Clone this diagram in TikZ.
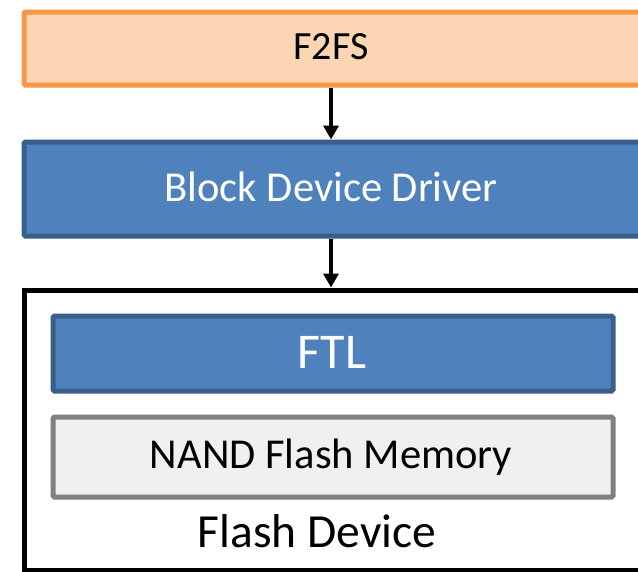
\documentclass[tikz,border=0pt]{standalone}
\usepackage{fontspec}
\setmainfont{Carlito}
\usetikzlibrary{arrows.meta}
\definecolor{orfill}{HTML}{FCD5B5}
\definecolor{ordraw}{HTML}{F79646}
\definecolor{blfill}{HTML}{4F81BD}
\definecolor{bldraw}{HTML}{3A5F8D}
\definecolor{grfill}{HTML}{F0F0F0}
\definecolor{grdraw}{HTML}{808080}
\tikzset{
  boxbase/.style={rectangle, line width=5pt, rounded corners=1.5pt, inner sep=0pt, anchor=north west},
  orbox/.style={boxbase, draw=ordraw, fill=orfill},
  blbox/.style={boxbase, draw=bldraw, fill=blfill},
  grbox/.style={boxbase, draw=grdraw, fill=grfill},
  devbox/.style={boxbase, draw=black, rounded corners=0pt},
  lbl/.style={anchor=base, inner sep=0pt},
  arr/.style={line width=3.6pt, -{Triangle[width=15pt,length=14pt]}}
}
\begin{document}
\begin{tikzpicture}[x=1pt,y=-1pt]
\useasboundingbox (0,0) rectangle (638,571);
\clip (0,0) rectangle (638,571);
\node[orbox, minimum width=680pt, minimum height=73pt] (f2fs) at (21.5,9.5) {};
\node[blbox, minimum width=680pt, minimum height=94pt] (bdd) at (21.5,139.5) {};
\node[devbox, minimum width=680pt, minimum height=280pt] (dev) at (21.5,287.5) {};
\node[blbox, minimum width=560pt, minimum height=75pt] (ftl) at (50.5,313.5) {};
\node[grbox, minimum width=560pt, minimum height=80pt] (nand) at (50.5,414.5) {};
\node[lbl] (t1) at (331,59) {\fontsize{40}{48}\selectfont F2FS};
\node[lbl, text=white] (t2) at (331,201) {\fontsize{42.6}{50}\selectfont Block Device Driver};
\node[lbl, text=white] (t3) at (332,368) {\fontsize{50}{60}\selectfont FTL};
\node[lbl] (t4) at (331,468) {\fontsize{42.6}{50}\selectfont NAND Flash Memory};
\node[lbl] (t5) at (317,547) {\fontsize{47.5}{56}\selectfont Flash Device};
\coordinate (ax) at (331,0);
\draw[arr] (f2fs.south -| ax) -- (bdd.north -| ax);
\draw[arr] (bdd.south -| ax) -- (dev.north -| ax);
\end{tikzpicture}
\end{document}
